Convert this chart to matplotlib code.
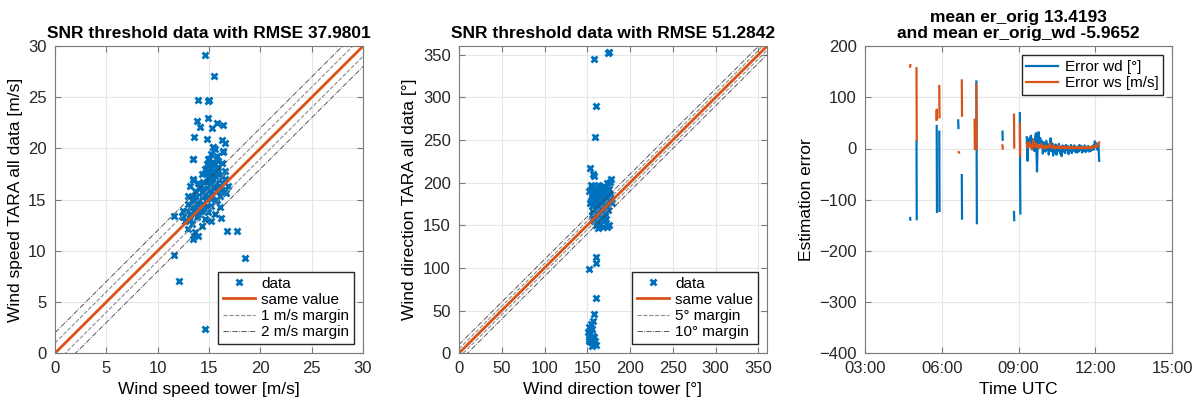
import matplotlib
matplotlib.use('Agg')
import matplotlib.pyplot as plt
import numpy as np

plt.rcParams['font.family'] = ['Liberation Sans', 'DejaVu Sans']

BLUE = '#0072BD'
ORANGE = '#D95319'

# --- wind speed: tower vs TARA ---
ws_tower = [14.63, 15.5, 13.95, 14.92, 15.0, 14.86, 13.82, 14.17, 15.3, 15.73, 16.38,
            13.53, 14.76, 16.22, 15.34, 16.32, 13.46, 13.46, 11.58, 12.49, 16.12, 16.77,
            17.74, 13.53, 11.58, 18.55, 12.1, 14.63, 16.7,
            16.54, 15.41, 15.57, 16.38, 15.18, 15.73, 13.40, 14.92, 15.89, 15.41, 14.76,
            16.22, 15.24, 14.60, 15.73, 15.08, 16.54, 14.27, 15.89, 14.92, 16.22, 13.46,
            15.41, 16.54, 14.44, 15.57, 14.11, 15.08, 16.06, 16.87, 13.14, 14.76, 15.73,
            13.62, 16.54, 14.27, 15.24, 12.98, 16.06, 13.46, 14.76, 13.95, 15.57, 12.98,
            14.44, 15.24, 13.62, 16.06, 12.49, 14.11, 14.92, 13.14, 15.57, 12.33, 13.79,
            14.60, 12.65, 15.24, 13.30, 14.27, 12.98, 13.62, 13.95, 13.46,
            14.5, 14.9, 15.3, 14.0, 13.8, 14.2, 13.5, 14.6, 15.0, 15.6, 15.9, 15.2, 14.1,
            13.7, 13.2, 13.9, 14.4, 15.1, 15.5, 16.0, 14.7, 15.0, 13.9, 14.3, 13.4, 12.8,
            13.1, 14.8, 15.8, 16.3]
ws_tara = [29.16, 27.07, 24.76, 24.67, 24.76, 22.97, 22.71, 22.06, 22.0, 22.45, 22.29,
           21.15, 20.89, 20.83, 20.11, 19.72, 18.97, 16.92, 13.44, 13.28, 13.21, 11.91,
           11.91, 11.49, 9.6, 9.31, 7.03, 2.34, 15.62,
           20.53, 20.11, 19.95, 19.69, 19.46, 19.30, 18.97, 18.97, 18.81, 18.65, 18.48,
           18.58, 18.16, 17.99, 17.99, 17.67, 17.83, 17.51, 17.51, 17.18, 17.35, 17.02,
           17.02, 17.02, 16.69, 16.53, 16.37, 16.37, 16.37, 16.37, 16.37, 16.04, 15.88,
           15.88, 15.72, 15.72, 15.56, 15.39, 15.39, 15.23, 15.07, 14.90, 14.90, 14.58,
           14.58, 14.42, 14.25, 14.25, 13.93, 13.93, 13.77, 13.60, 13.60, 13.44, 13.28,
           13.12, 12.95, 12.95, 12.63, 12.46, 12.14, 11.81, 11.49, 11.16,
           16.0, 16.8, 17.2, 15.0, 14.6, 14.0, 13.9, 15.5, 16.0, 17.6, 18.2, 18.6, 16.1,
           15.3, 14.2, 13.6, 13.9, 15.2, 16.1, 16.9, 17.6, 19.0, 16.6, 15.3, 14.9, 13.9,
           13.1, 14.4, 15.0, 15.9]

# --- wind direction: tower vs TARA ---
wd_tower = [157.8, 173.8, 175.0, 160.2, 158.6, 152.7, 157.0, 157.4, 154.3, 164.0,
            162.0, 173.0, 159.8, 159.8, 151.6, 159.8, 158.2,
            156.3, 154.3, 152.3, 155.0, 150.4, 153.5, 156.3, 151.6, 158.2, 154.3, 157.4,
            160.2, 155.0, 158.9, 152.3,
            155, 158, 162, 166, 170, 173, 176, 178, 156, 160, 164, 168, 172, 175, 157,
            161, 165, 169, 173, 176, 154, 158, 162, 166, 170, 174, 156, 160, 164, 168,
            172, 175, 157, 161, 165, 169, 173, 159, 163, 167, 171, 174, 158, 162, 166,
            170, 160, 165, 169, 172, 155, 153, 155, 157, 168, 175, 171, 163, 166, 160,
            177, 179, 152, 163]
wd_tara = [344.7, 352.1, 353.0, 289.9, 252.9, 216.7, 210.0, 207.4, 196.9, 195.7,
           147.0, 148.0, 113.2, 105.4, 98.8, 64.6, 45.9,
           37.4, 34.2, 30.4, 28.4, 24.5, 22.6, 20.6, 16.7, 18.7, 12.8, 10.9,
           9.7, 8.9, 14.8, 14.8,
           195, 192, 190, 193, 196, 199, 201, 204, 188, 185, 186, 188, 190, 192, 182,
           180, 181, 183, 185, 187, 178, 176, 177, 178, 180, 181, 172, 170, 172, 174,
           176, 178, 166, 165, 167, 169, 171, 160, 161, 163, 165, 168, 155, 156, 158,
           160, 150, 152, 155, 157, 186, 176, 162, 158, 148, 150, 170, 168, 184, 192,
           183, 176, 190, 197]

# --- estimation error over time (hours UTC), NaN splits the record gaps ---
nan = np.nan
wd_err_hours = [4.76, 4.77, nan, 5.01, 5.02, nan, 5.80, 5.81, nan, 5.90, 5.91, nan,
                6.64, 6.65, nan, 6.78, 6.79, nan, 7.35, 7.36, 7.37, nan, 8.37, 8.38, nan,
                8.82, 8.83, nan, 9.05, 9.06, 9.07, nan]
wd_err_vals = [-136, -139, nan, 14, -138, nan, 44, -124, nan, 33, -122, nan,
               55, 40, nan, -52, -137, nan, 131, -2, -146, nan, 33, 17, nan,
               -124, -140, nan, 69, -51, -127, nan]
ws_err_hours = [4.76, 4.77, nan, 5.01, 5.02, nan, 5.79, 5.80, 5.81, nan, 5.90, 5.91, nan,
                6.66, 6.67, nan, 6.78, 6.79, nan, 7.28, 7.29, nan, 7.35, 7.36, nan,
                8.37, 8.38, nan, 8.82, 8.83, nan, 9.05, 9.06, nan]
ws_err_vals = [160, 163, nan, 157, 17, nan, 56, 76, 58, nan, 122, 61, nan,
               -7, -8, nan, 133, 64, nan, 56, -1, nan, 125, -1, nan,
               6, 0, nan, 66, 2, nan, 49, -14, nan]

dense_hours = [9.32, 9.35, 9.38, 9.42, 9.45, 9.48, 9.52, 9.55, 9.58, 9.62, 9.65, 9.68,
               9.72, 9.75, 9.78, 9.82, 9.85, 9.88, 9.92, 9.95, 9.98, 10.02, 10.05, 10.08,
               10.12, 10.15, 10.18, 10.22, 10.25, 10.28, 10.32, 10.35, 10.38, 10.42, 10.45,
               10.48, 10.52, 10.55, 10.58, 10.62, 10.65, 10.68, 10.72, 10.75, 10.78, 10.82,
               10.85, 10.88, 10.92, 10.95, 10.98, 11.02, 11.05, 11.08, 11.12, 11.15, 11.18,
               11.22, 11.25, 11.28, 11.32, 11.35, 11.38, 11.42, 11.45, 11.48, 11.52, 11.55,
               11.58, 11.62, 11.65, 11.68, 11.72, 11.75, 11.78, 11.82, 11.85, 11.88, 11.92,
               11.95, 11.98, 12.02, 12.05, 12.08, 12.12, 12.15]
dense_wd = [22, -24, 15, 20, 5, 25, 8, 18, 12, -5, 22, 30,
            -45, 18, 32, 10, 20, 5, 14, -10, 12, 2, -6, 15,
            -3, 8, -12, 6, 20, -5, 10, -14, 3, -8, 8,
            -12, 5, -4, 9, -10, 3, -15, 6, -6, 4, -9,
            7, -3, 5, -11, 2, -5, 7, -9, 3, -4, 6,
            -7, 2, -8, 4, -6, 7, -3, 5, -8, 3, -5,
            6, -7, 2, -4, 5, -6, 3, -5, 4, -3, 6,
            -2, 14, 4, 10, -2, 8, -24]
dense_ws = [10, 2, 5, 12, 3, 7, -2, 6, 16, 4, 10, 2,
            8, 3, 6, 1, 4, 9, 2, 5, 0, 3, 6, 1,
            4, 2, 5, 10, 3, 1, 4, 2, 6, 0, 3,
            1, 4, 2, 5, 0, 3, 1, 4, 2, 0, 3,
            1, 4, 2, 0, 3, 1, 2, 0, 3, 1, 2,
            0, 2, 1, 3, 0, 2, 1, 3, 0, 2, 1,
            3, 0, 2, 1, 3, 1, 2, 0, 3, 1, 4,
            2, 5, 3, 8, 4, 10, 12]

time_ticks = [3, 6, 9, 12, 15]
time_labels = ['03:00', '06:00', '09:00', '12:00', '15:00']

LABEL_FS = 12.5
TITLE_FS = 12.5
LEGEND_KW = dict(fontsize=11, fancybox=False, edgecolor='#262626', framealpha=1,
                 borderaxespad=0.6, handlelength=2.1, handletextpad=0.4,
                 borderpad=0.3, labelspacing=0.15)


def style_axes(ax):
    ax.grid(True, color='#e6e6e6', linewidth=0.8)
    ax.set_axisbelow(True)
    for s in ax.spines.values():
        s.set_color('#7a7a7a')
        s.set_linewidth(0.8)
    ax.tick_params(direction='in', top=True, right=True, length=4, pad=6,
                   color='#7a7a7a', labelsize=12, labelcolor='#262626')


fig = plt.figure(figsize=(12.04, 4.05), dpi=100)
ax1 = fig.add_axes([0.0457, 0.128, 0.2558, 0.758])
ax2 = fig.add_axes([0.3812, 0.128, 0.2558, 0.758])
ax3 = fig.add_axes([0.7185, 0.128, 0.2550, 0.758])

# speed scatter with identity and margin lines
ref = np.array([0, 30])
ax1.plot(ws_tower, ws_tara, 'x', color=BLUE, ms=5, mew=2, label='data')
ax1.plot(ref, ref, '-', color=ORANGE, lw=2, label='same value')
ax1.plot(ref, ref + 1, '--', color='#8c8c8c', lw=0.8, label='1 m/s margin')
ax1.plot(ref, ref - 1, '--', color='#8c8c8c', lw=0.8)
ax1.plot(ref, ref + 2, '-.', color='#404040', lw=0.6, label='2 m/s margin')
ax1.plot(ref, ref - 2, '-.', color='#404040', lw=0.6)
ax1.set_xlim(0, 30)
ax1.set_ylim(0, 30)
ax1.set_xticks(range(0, 31, 5))
ax1.set_yticks(range(0, 31, 5))
ax1.set_xlabel('Wind speed tower [m/s]', fontsize=LABEL_FS)
ax1.set_ylabel('Wind speed TARA all data [m/s]', fontsize=LABEL_FS)
ax1.set_title('SNR threshold data with RMSE 37.9801', fontsize=TITLE_FS, fontweight='bold')
ax1.legend(loc='lower right', **LEGEND_KW)

# direction scatter
ref = np.array([0, 360])
ax2.plot(wd_tower, wd_tara, 'x', color=BLUE, ms=5, mew=2, label='data')
ax2.plot(ref, ref, '-', color=ORANGE, lw=2, label='same value')
ax2.plot(ref, ref + 5, '--', color='#8c8c8c', lw=0.8, label='5° margin')
ax2.plot(ref, ref - 5, '--', color='#8c8c8c', lw=0.8)
ax2.plot(ref, ref + 10, '-.', color='#404040', lw=0.6, label='10° margin')
ax2.plot(ref, ref - 10, '-.', color='#404040', lw=0.6)
ax2.set_xlim(0, 360)
ax2.set_ylim(0, 360)
ax2.set_xticks(range(0, 351, 50))
ax2.set_yticks(range(0, 351, 50))
ax2.set_xlabel('Wind direction tower [°]', fontsize=LABEL_FS)
ax2.set_ylabel('Wind direction TARA all data [°]', fontsize=LABEL_FS)
ax2.set_title('SNR threshold data with RMSE 51.2842', fontsize=TITLE_FS, fontweight='bold')
ax2.legend(loc='lower right', **LEGEND_KW)

# error time series
wd_t = wd_err_hours + dense_hours
wd_v = wd_err_vals + dense_wd
ws_t = ws_err_hours + dense_hours
ws_v = ws_err_vals + dense_ws
ax3.plot(wd_t, wd_v, '-', color=BLUE, lw=1.6, label='Error wd [°]')
ax3.plot(ws_t, ws_v, '-', color=ORANGE, lw=1.6, label='Error ws [m/s]')
ax3.set_xlim(3, 15)
ax3.set_ylim(-400, 200)
ax3.set_xticks(time_ticks)
ax3.set_xticklabels(time_labels)
ax3.set_yticks(range(-400, 201, 100))
ax3.set_xlabel('Time UTC', fontsize=LABEL_FS)
ax3.set_ylabel('Estimation error', fontsize=LABEL_FS)
ax3.set_title('mean er_orig 13.4193\nand mean er_orig_wd -5.9652', fontsize=TITLE_FS,
              fontweight='bold', linespacing=1.1)
ax3.legend(loc='upper right', **LEGEND_KW)

for ax in (ax1, ax2, ax3):
    style_axes(ax)

fig.savefig('out.png', dpi=100)
